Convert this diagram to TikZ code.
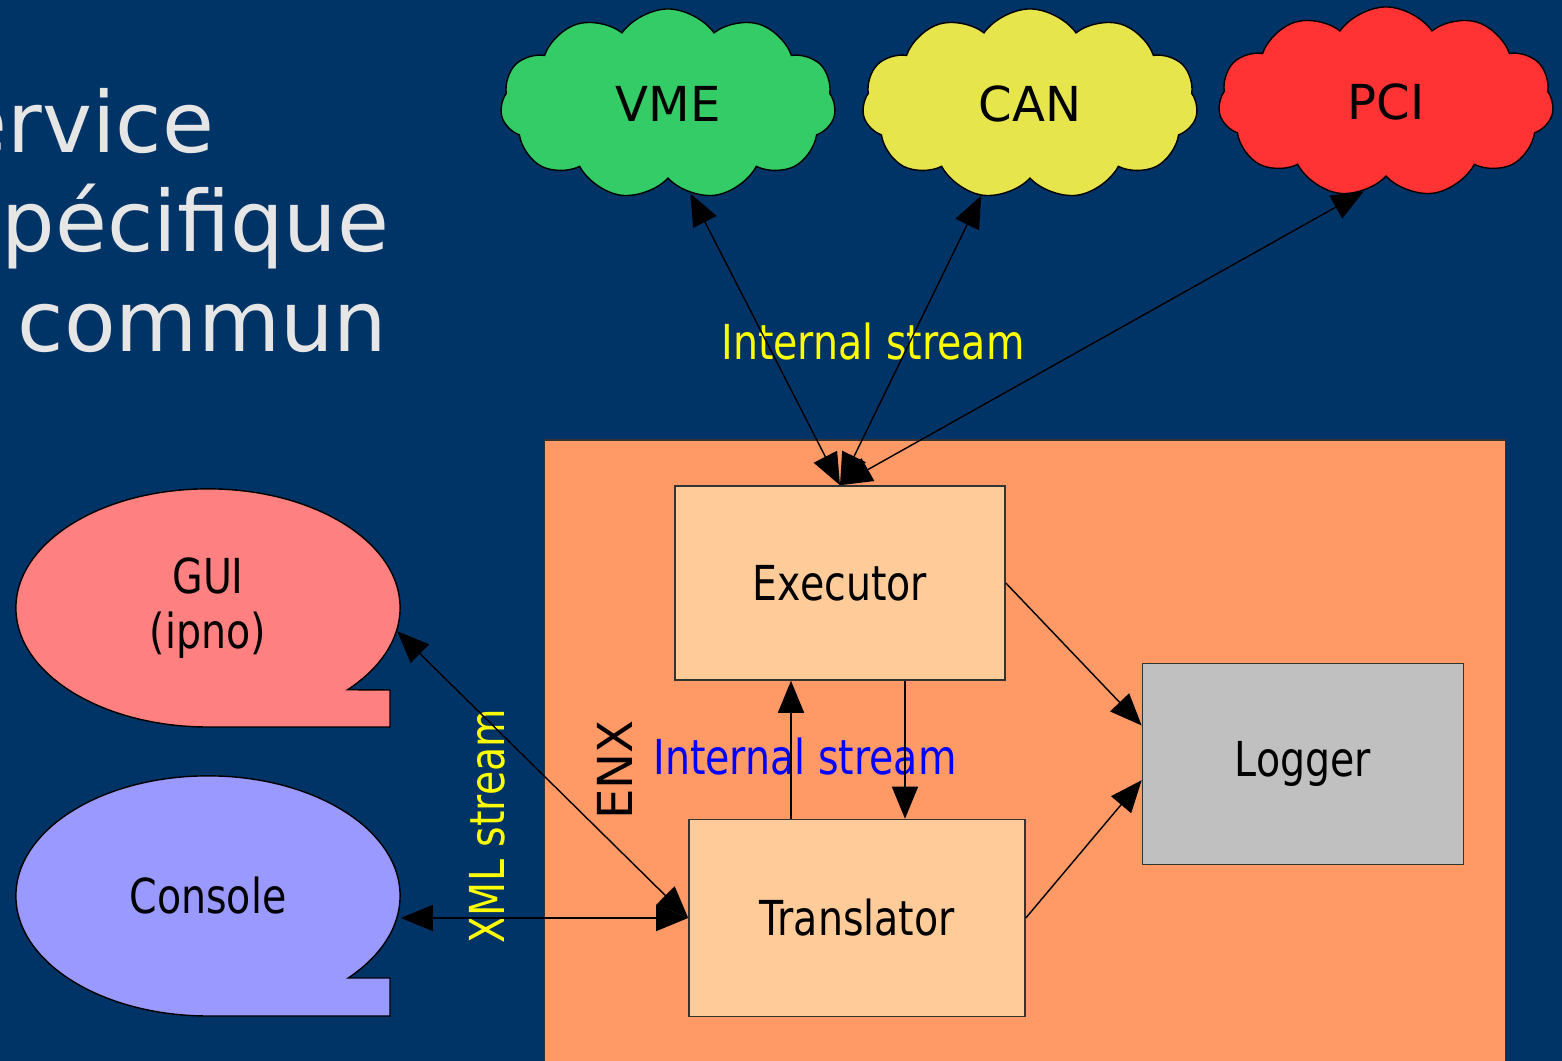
\documentclass[tikz,border=0pt]{standalone}
\usepackage{fontspec}
\setmainfont{DejaVu Sans}
\newfontfamily\narrowfont[FakeStretch=0.82]{DejaVu Sans}
\usetikzlibrary{arrows.meta,calc,shapes.geometric,shapes.symbols}
\definecolor{slidebg}{RGB}{0,51,102}
\definecolor{titlegray}{RGB}{230,230,230}
\definecolor{enxorange}{RGB}{255,153,102}
\definecolor{boxpeach}{RGB}{255,204,153}
\definecolor{loggray}{RGB}{192,192,192}
\definecolor{vmegreen}{RGB}{51,204,102}
\definecolor{canyellow}{RGB}{230,230,76}
\definecolor{pcired}{RGB}{255,51,51}
\definecolor{guipink}{RGB}{255,128,128}
\definecolor{consblue}{RGB}{153,153,255}
\definecolor{streamyellow}{RGB}{255,255,0}
\definecolor{streamblue}{RGB}{0,0,255}

\begin{document}
\begin{tikzpicture}[
  x=0.01cm, y=-0.01cm,
  title/.style={font=\fontsize{24}{29}\selectfont, text=titlegray, inner sep=0pt, anchor=base east},
  lbl/.style={font=\narrowfont\fontsize{13.7}{15.6}\selectfont, inner sep=0pt},
  bus/.style={cloud, cloud puffs=11, cloud puff arc=110, cloud ignores aspect, draw=black, thin,
    minimum width=3.35cm, minimum height=1.9cm, inner sep=0pt, font=\fontsize{13.7}{16}\selectfont},
  block/.style={draw=black!80, fill=boxpeach, lbl},
  callout/.style={draw=black, thin},
  bubble/.style={ellipse, minimum width=3.84cm, minimum height=2.38cm, lbl, align=center},
  arr/.style={-{Triangle[length=3.2mm,width=2.6mm]}, thin},
  biarr/.style={{Triangle[length=3.2mm,width=2.6mm]}-{Triangle[length=3.2mm,width=2.6mm]}, thin}
]
\useasboundingbox (0,0) rectangle (1562,1061);
\clip (0,0) rectangle (1562,1061);
\fill[slidebg] (0,0) rectangle (1562,1061);

% slide title, cut at the left edge
\node[title] (t1) at (215,153) {ervice};
\node[title] (t2) at (390,252) {pécifique};
\node[title] (t3) at (388,352) {commun};

% buses
\node[bus, fill=vmegreen] (vme) at (668,104) {VME};
\node[bus, fill=canyellow] (can) at (1030,104) {CAN};
\node[bus, fill=pcired] (pci) at (1386,102) {PCI};

% ENX container
\node[draw=black!80, fill=enxorange, minimum width=9.6cm, minimum height=6.6cm, inner sep=0pt] (enx) at (1025,770) {};
\node[lbl, rotate=90, font=\fontsize{13.7}{16}\selectfont] (enxlbl) at (615,770) {ENX};

\node[block, fill=boxpeach, minimum width=3.3cm, minimum height=1.94cm] (exec) at (840,583) {Executor};
\node[block, fill=boxpeach, minimum width=3.36cm, minimum height=1.97cm] (trans) at (857,918) {Translator};
\node[block, fill=loggray, minimum width=3.21cm, minimum height=2.01cm] (logger) at (1303,764) {Logger};

% clients
\filldraw[callout, fill=guipink] (208,727) arc[start angle=-90, end angle=-403.4, x radius=1.92cm, y radius=1.19cm]
  -- (390,690) -- (390,727) -- cycle;
\node[bubble] (gui) at (208,608) {GUI\\(ipno)};
\filldraw[callout, fill=consblue] (208,1016) arc[start angle=-90, end angle=-403.1, x radius=1.92cm, y radius=1.2cm]
  -- (390,978) -- (390,1016) -- cycle;
\node[bubble, minimum height=2.4cm] (cons) at (208,896) {Console};

% stream labels
\node[lbl, text=streamyellow] (intup) at (873,342) {Internal stream};
\node[lbl, text=streamblue] (intin) at (805,757) {Internal stream};
\node[lbl, text=streamyellow, rotate=90] (xml) at (487,826) {XML stream};

\draw[biarr] (exec.north) -- (vme.-76);
\draw[biarr] (exec.north) -- (can.-118);
\draw[biarr] (exec.north) -- (pci.-104);
\draw[biarr] (gui.-7) -- (trans.west);
\draw[biarr] (cons.east |- trans.west) -- (trans.west);
\draw[arr] ($(trans.north)+(-66,0)$) -- ($(exec.south)+(-49,0)$);
\draw[arr] ($(exec.south)+(65,0)$) -- ($(trans.north)+(48,0)$);
\draw[arr] (exec.east) -- ($(logger.north west)!0.31!(logger.south west)$);
\draw[arr] (trans.east) -- ($(logger.north west)!0.58!(logger.south west)$);
\end{tikzpicture}
\end{document}
